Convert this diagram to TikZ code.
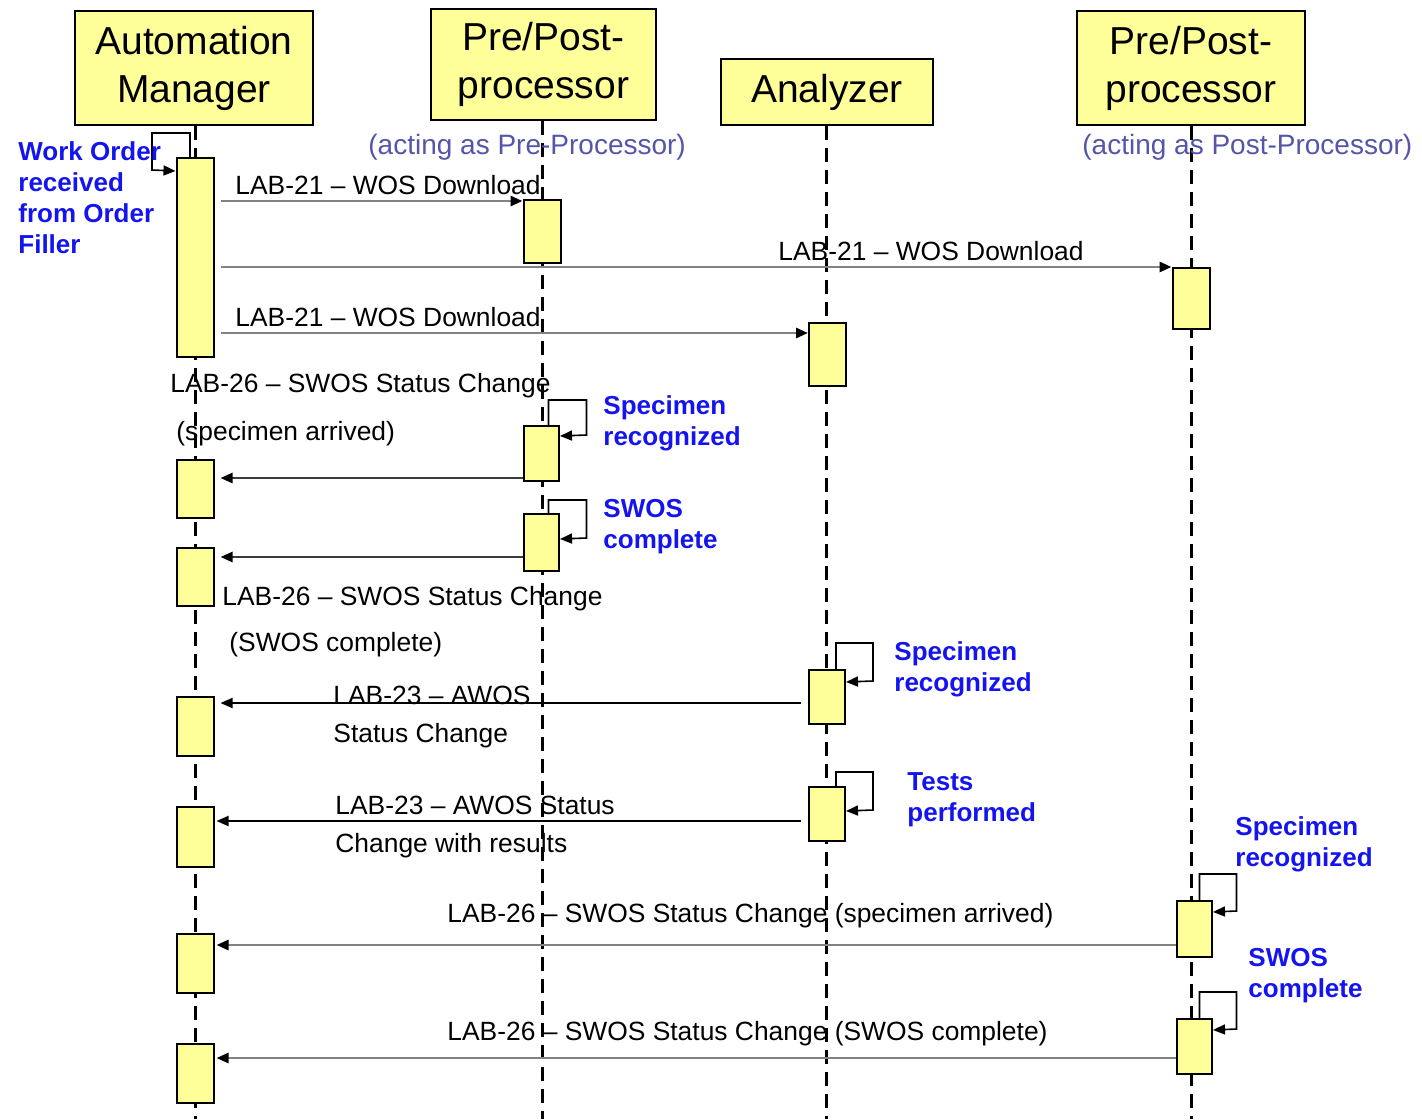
\documentclass[tikz,border=0pt]{standalone}
\usepackage{fontspec}
\setmainfont{Liberation Sans}
\usetikzlibrary{arrows.meta}
\definecolor{boxyellow}{RGB}{255,255,153}
\definecolor{noteblue}{RGB}{20,20,240}
\definecolor{actingblue}{RGB}{85,85,170}
\definecolor{msggray}{RGB}{130,130,130}
\definecolor{msgdark}{RGB}{60,60,60}
\begin{document}
\begin{tikzpicture}[x=0.5pt,y=-0.5pt,
  header/.style={draw=black, line width=1pt, fill=boxyellow, inner sep=0pt, align=center,
    font=\fontsize{19.5}{24}\selectfont},
  act/.style={draw=black, line width=1pt, fill=boxyellow, inner sep=0pt, minimum width=18.5pt},
  life/.style={line width=1.5pt, dash pattern=on 7pt off 4pt},
  msg/.style={draw=msggray, line width=1.4pt, -{Triangle[length=6pt,width=5pt,color=black]}},
  msgdk/.style={draw=msgdark, line width=1.3pt, -{Triangle[length=6pt,width=5pt,color=black]}},
  msgbk/.style={draw=black, line width=1pt, -{Triangle[length=6pt,width=5pt,color=black]}},
  lbl/.style={font=\fontsize{13.2}{19}\selectfont, inner sep=0pt, anchor=base west},
  note/.style={font=\bfseries\fontsize{13}{15.5}\selectfont, text=noteblue, align=left, inner sep=0pt, anchor=base west},
  acting/.style={font=\fontsize{14}{17}\selectfont, text=actingblue, inner sep=0pt, anchor=base west},
  selfloop/.style={draw=black, line width=0.8pt, -{Triangle[length=6pt,width=5pt]}}
]
\useasboundingbox[fill=white] (0,0) rectangle (1422,1119);

% headers
\node[header, minimum width=119pt, minimum height=57pt] (h1) at (194,68) {Automation\\Manager};
\node[header, minimum width=112.5pt, minimum height=55.5pt] (h2) at (543.5,64.5) {Pre/Post-\\processor};
\node[header, minimum width=106pt, minimum height=33pt] (h3) at (827,92) {Analyzer};
\node[header, minimum width=114pt, minimum height=57pt] (h4) at (1191,68) {Pre/Post-\\processor};

% lifelines
\coordinate (e1) at (195,1119);
\coordinate (e2) at (542,1119);
\coordinate (e3) at (826,1119);
\coordinate (e4) at (1191,1119);
\draw[life] (h1.south -| e1) -- (e1);
\draw[life] (h2.south -| e2) -- (e2);
\draw[life] (h3.south -| e3) -- (e3);
\draw[life] (h4.south -| e4) -- (e4);

% acting labels
\node[acting] (ac1) at (368,154) {(acting as Pre-Processor)};
\node[acting] (ac2) at (1082,154) {(acting as Post-Processor)};

% activations: Automation Manager
\node[act, minimum height=99.5pt] (a1) at (195,257.5) {};
\node[act, minimum height=29pt] (a2) at (195,489) {};
\node[act, minimum height=29pt] (a3) at (195,577) {};
\node[act, minimum height=29.5pt] (a4) at (195,726.5) {};
\node[act, minimum height=30pt] (a5) at (195,837) {};
\node[act, minimum height=29.5pt] (a6) at (195,963.5) {};
\node[act, minimum height=29.5pt] (a7) at (195,1073.5) {};
% pre-processor
\node[act, minimum height=31.5pt] (b1) at (542,231.5) {};
\node[act, minimum height=27.5pt, minimum width=17.5pt] (b2) at (541.5,453.5) {};
\node[act, minimum height=28.5pt, minimum width=17.5pt] (b3) at (541.5,542.5) {};
% analyzer
\node[act, minimum height=31.5pt] (c1) at (827.5,354.5) {};
\node[act, minimum height=27pt, minimum width=18pt] (c2) at (827,697) {};
\node[act, minimum height=27pt, minimum width=18pt] (c3) at (827,814) {};
% post-processor
\node[act, minimum height=30.5pt] (d1) at (1191,298.5) {};
\node[act, minimum height=28pt, minimum width=17.5pt] (d2) at (1194.5,929) {};
\node[act, minimum height=27.5pt, minimum width=17.5pt] (d3) at (1194.5,1046.5) {};

% self loops
\draw[selfloop] ([xshift=-2.5pt]a1.north) -- ++(0,-24) -- ++(-38,0) -- ++(0,37) -- (a1.west |- 0,171);
\draw[selfloop] ([xshift=3.5pt]b2.north) -- ++(0,-25) -- ++(38,0) -- ++(0,35) -- (b2.east |- 0,436);
\draw[selfloop] ([xshift=3.5pt]b3.north) -- ++(0,-13) -- ++(38,0) -- ++(0,38) -- (b3.east |- 0,539);
\draw[selfloop] ([xshift=4.5pt]c2.north) -- ++(0,-26) -- ++(37,0) -- ++(0,38) -- (c2.east |- 0,682);
\draw[selfloop] ([xshift=4.5pt]c3.north) -- ++(0,-14) -- ++(37,0) -- ++(0,38) -- (c3.east |- 0,811);
\draw[selfloop] ([xshift=2.5pt]d2.north) -- ++(0,-26) -- ++(37,0) -- ++(0,37) -- (d2.east |- 0,912);
\draw[selfloop] ([xshift=2.5pt]d3.north) -- ++(0,-26) -- ++(37,0) -- ++(0,37) -- (d3.east |- 0,1030);

% messages
\draw[msg, shorten <=3pt] (a1.east |- 0,201) -- (b1.west |- 0,201);
\draw[msg, shorten <=3pt] (a1.east |- 0,267) -- (d1.west |- 0,267);
\draw[msg, shorten <=3pt] (a1.east |- 0,333) -- (c1.west |- 0,333);
\draw[msgdk, shorten >=3pt] (b2.west |- 0,478) -- (a2.east |- 0,478);
\draw[msgdk, shorten >=3pt] (b3.west |- 0,557) -- (a3.east |- 0,557);
\draw[msgbk, shorten <=3.5pt, shorten >=3pt] (c2.west |- 0,703) -- (a4.east |- 0,703);
\draw[msgbk, shorten <=3.5pt, shorten >=1pt] (c3.west |- 0,821) -- (a5.east |- 0,821);
\draw[msg, shorten >=1pt] (d2.west |- 0,945) -- (a6.east |- 0,945);
\draw[msg, shorten >=1pt] (d3.west |- 0,1058) -- (a7.east |- 0,1058);

% message labels
\node[lbl] (m1) at (235,194) {LAB-21 -- WOS Download};
\node[lbl] (m2) at (778,260) {LAB-21 -- WOS Download};
\node[lbl] (m3) at (235,326) {LAB-21 -- WOS Download};
\node[lbl] (m4a) at (170,392) {LAB-26 -- SWOS Status Change};
\node[lbl] (m4b) at (176,440) {(specimen arrived)};
\node[lbl] (m5a) at (222,605) {LAB-26 -- SWOS Status Change};
\node[lbl] (m5b) at (229,651) {(SWOS complete)};
\node[lbl] (m6a) at (333,704) {LAB-23 -- AWOS};
\node[lbl] (m6b) at (333,742) {Status Change};
\node[lbl] (m7a) at (335,814) {LAB-23 -- AWOS Status};
\node[lbl] (m7b) at (335,852) {Change with results};
\node[lbl] (m8) at (447,922) {LAB-26 -- SWOS Status Change (specimen arrived)};
\node[lbl] (m9) at (447,1040) {LAB-26 -- SWOS Status Change (SWOS complete)};

% notes (anchor = baseline of last line)
\node[note] (n1) at (18,253) {Work Order\\received\\from Order\\Filler};
\node[note] (n2) at (603,445) {Specimen\\recognized};
\node[note] (n3) at (603,548) {SWOS\\complete};
\node[note] (n4) at (894,691) {Specimen\\recognized};
\node[note] (n5) at (907,821) {Tests\\performed};
\node[note] (n6) at (1235,866) {Specimen\\recognized};
\node[note] (n7) at (1248,997) {SWOS\\complete};
\end{tikzpicture}
\end{document}
